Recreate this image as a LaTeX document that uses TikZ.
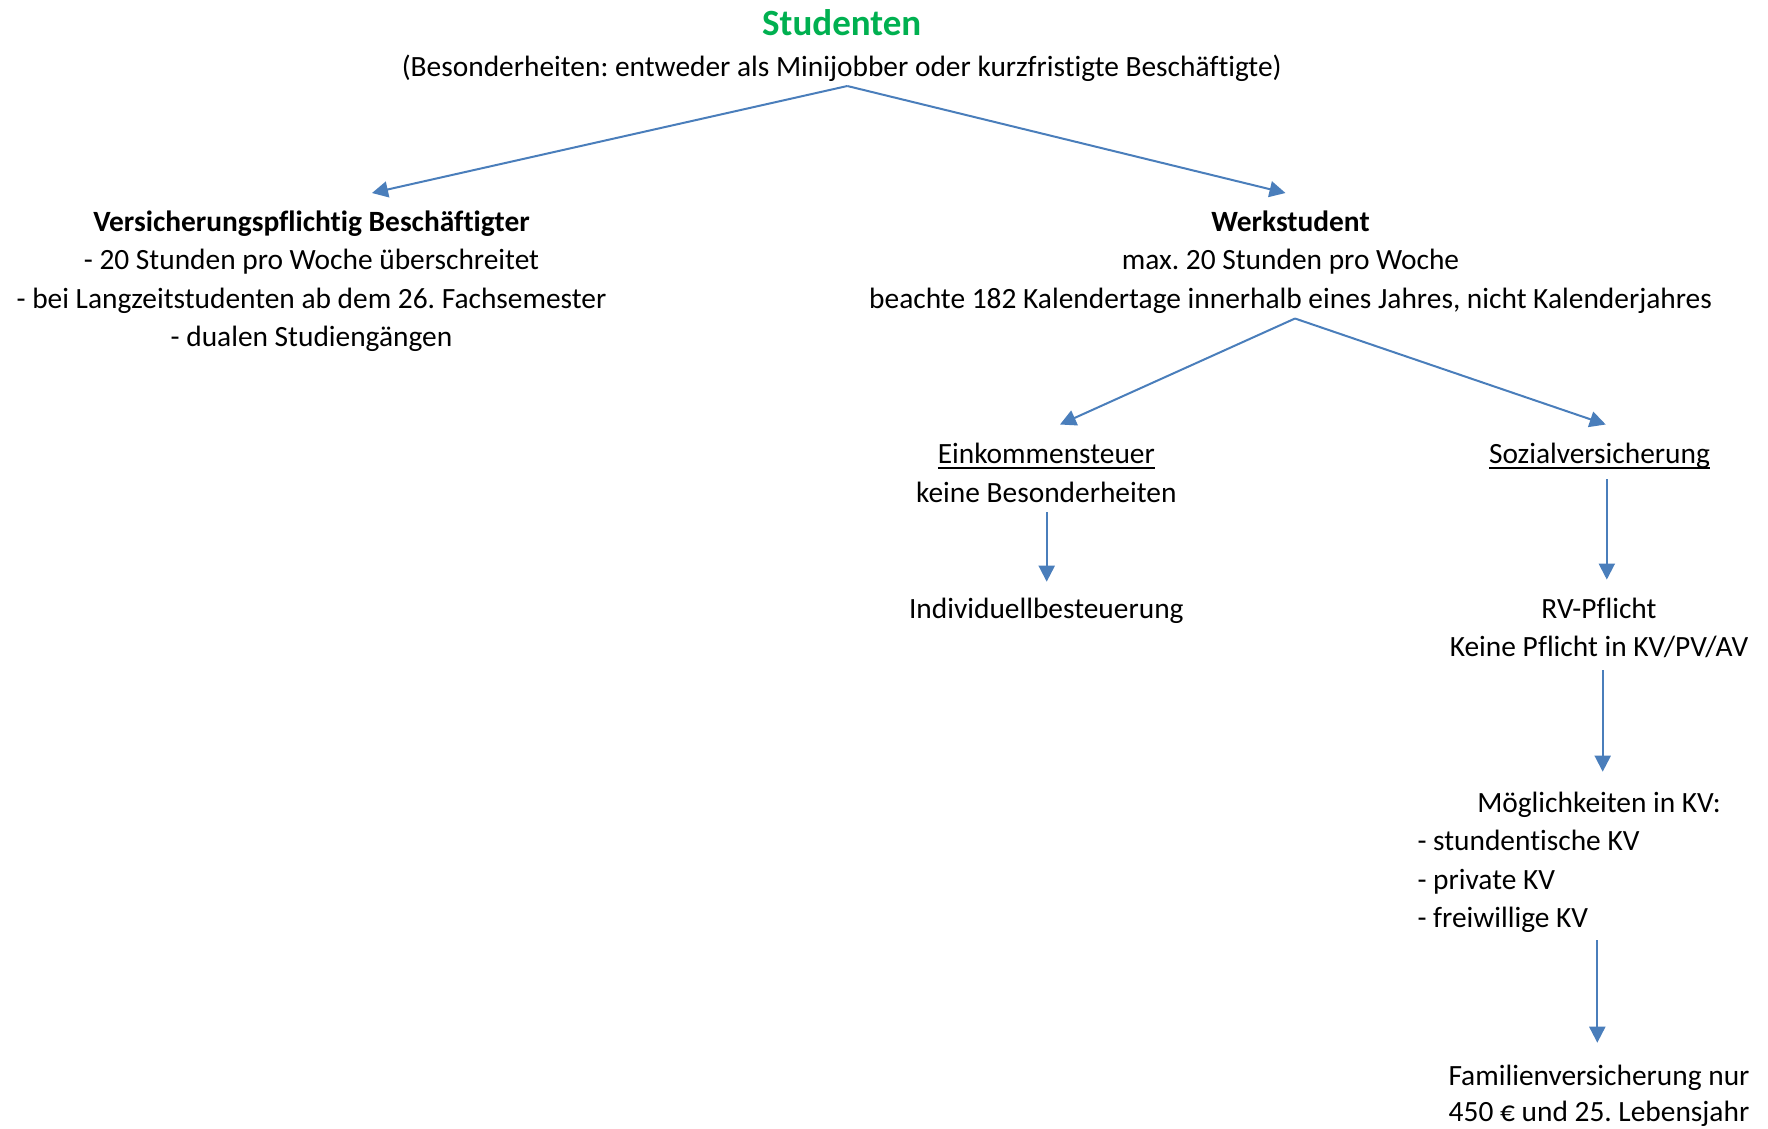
\documentclass[tikz,border=0pt]{standalone}
\usepackage{fontspec}
\setmainfont{Carlito}[Ligatures={NoCommon}]
\usetikzlibrary{arrows.meta}
\definecolor{arrowblue}{HTML}{4A7EBB}
\definecolor{titlegreen}{HTML}{00B050}
\newcommand\myul[1]{\setbox0\hbox{#1}\rlap{\rule[-5.6pt]{\wd0}{2pt}}\box0}
\frenchspacing
\begin{document}
\frenchspacing
\begin{tikzpicture}[x=1pt,y=-1pt,
  txt/.style={anchor=base, inner sep=0pt, font=\fontsize{29.4pt}{38.4pt}\selectfont\frenchspacing},
  txtl/.style={txt, anchor=base west},
  txtb/.style={txt, font=\fontsize{29.4pt}{38.4pt}\selectfont\bfseries\frenchspacing},
  titletxt/.style={txt, text=titlegreen, font=\fontsize{37pt}{44pt}\selectfont\bfseries},
  conn/.style={draw=arrowblue, line width=2pt, -{Triangle[length=16pt,width=16pt]}}
]
\useasboundingbox (0,0) rectangle (1768,1128);

% title
\node[titletxt] (title) at (841.7,35) {Studenten};
\node[txt] (sub) at (841.7,76) {(Besonderheiten: entweder als Minijobber oder kurzfristigte Beschäftigte)};

% left block
\node[txtb] (vb) at (311.5,231) {Versicherungspflichtig Beschäftigter};
\node[txt] (vb1) at (311.5,269.5) {- 20 Stunden pro Woche überschreitet};
\node[txt] (vb2) at (311.5,308) {- bei Langzeitstudenten ab dem 26. Fachsemester};
\node[txt] (vb3) at (311.5,346.5) {- dualen Studiengängen};

% right block
\node[txtb] (ws) at (1290.5,231) {Werkstudent};
\node[txt] (ws1) at (1290.5,269.5) {max. 20 Stunden pro Woche};
\node[txt] (ws2) at (1290.5,308) {beachte 182 Kalendertage innerhalb eines Jahres, nicht Kalenderjahres};

% Einkommensteuer
\node[txt] (ek) at (1046.3,463.7) {\myul{Einkommensteuer}};
\node[txt] (ek1) at (1046.3,502.7) {keine Besonderheiten};
\node[txt] (ind) at (1046.3,618.5) {Individuellbesteuerung};

% Sozialversicherung
\node[txt] (sv) at (1599.5,463.7) {\myul{Sozialversicherung}};
\node[txt] (rv) at (1599,618.5) {RV-Pflicht};
\node[txt] (rv1) at (1599,656.5) {Keine Pflicht in KV/PV/AV};

\node[txt] (mk) at (1599,812.5) {Möglichkeiten in KV:};
\node[txtl] (mk1) at (1417.3,850.8) {- stundentische KV};
\node[txtl] (mk2) at (1417.3,889) {- private KV};
\node[txtl] (mk3) at (1417.3,927.3) {- freiwillige KV};

\node[txt] (fv) at (1599,1085) {Familienversicherung nur};
\node[txt] (fv1) at (1599,1121.7) {450 € und 25. Lebensjahr};

% connector points
\coordinate (ap1) at (847.3,86);
\coordinate (t1) at (372,193);
\coordinate (t2) at (1285.5,193);
\coordinate (ap2) at (1295,318.5);
\coordinate (t3) at (1060,424.5);
\coordinate (t4) at (1605.7,424.5);
\coordinate (s5) at (1046.7,512);
\coordinate (t5) at (1046.7,581.7);
\coordinate (s6) at (1606.8,479);
\coordinate (t6) at (1606.8,579.6);
\coordinate (s7) at (1602.7,670);
\coordinate (t7) at (1602.7,771.7);
\coordinate (s8) at (1597.3,940);
\coordinate (t8) at (1597.3,1042.7);

\draw[conn] (ap1) -- (t1);
\draw[conn] (ap1) -- (t2);
\draw[conn] (ap2) -- (t3);
\draw[conn] (ap2) -- (t4);
\draw[conn] (s5) -- (t5);
\draw[conn] (s6) -- (t6);
\draw[conn] (s7) -- (t7);
\draw[conn] (s8) -- (t8);
\end{tikzpicture}
\end{document}
